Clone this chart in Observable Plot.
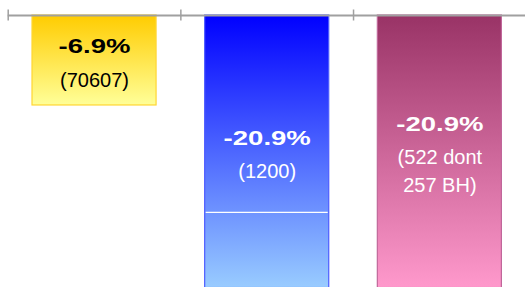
<!DOCTYPE html>
<html><head><meta charset="utf-8">
<script src="https://cdn.jsdelivr.net/npm/d3@7"></script>
<script src="https://cdn.jsdelivr.net/npm/@observablehq/plot@0.6"></script>
<style>html,body{margin:0;padding:0;background:#fff;overflow:hidden}</style>
</head><body><div id="chart"></div>
<script>
// Data
const categories = ["A", "B", "C"];
const values = [-6.9, -20.9, -20.9];
const counts = ["(70607)", "(1200)", "(522 dont\n257 BH)"];
const splitValues = [null, -15.1, null];
const topColors = ["#ffcc00", "#0000ff", "#993366"];
const bottomColors = ["#ffff99", "#99ccff", "#ff99cc"];
const borderColors = ["#ffd633", "#4d5cff", "#c0679a"];
const textColors = ["#000000", "#ffffff", "#ffffff"];
const boundaryTicks = [0, 1, 2, 3];

const rows = categories.map((c, i) => ({
  i, cat: c, value: values[i], count: counts[i], split: splitValues[i],
  border: borderColors[i], color: textColors[i], fill: `url(#grad${i})`
}));

const barInset = 24.3;
const capH = 14.3, boldGap = 33.5, lineGap = 27.7, centerShift = 2.5;

const labelMarks = rows.flatMap(d => {
  const n = d.count.split("\n").length;
  const H = capH + boldGap + (n - 1) * lineGap;
  return [
    Plot.text([d], {
      x: r => r.i + 0.5, y: r => r.value / 2,
      text: r => r.value.toFixed(1) + "%",
      fill: "color", fontWeight: "bold", fontSize: 21, fontFamily: "Liberation Sans, Arial, sans-serif",
      lineAnchor: "bottom", dy: centerShift - H / 2 + capH
    }),
    Plot.text([d], {
      x: r => r.i + 0.5, y: r => r.value / 2,
      text: "count",
      fill: "color", fontSize: 20, fontFamily: "Liberation Sans, Arial, sans-serif",
      lineAnchor: "bottom", lineHeight: lineGap / 20, dy: centerShift + H / 2
    })
  ];
});

const chart = Plot.plot({
  width: 525,
  height: 287,
  x: {type: "linear", domain: [0, 3], range: [7.7, 525.7], axis: null},
  y: {domain: [0, -22], range: [15, 301.9], axis: null},
  color: {type: "identity"},
  marks: [
    Plot.rectY(rows, {
      x1: d => d.i, x2: d => d.i + 1, y1: 0, y2: "value",
      fill: "fill", stroke: "border", strokeWidth: 1.2,
      insetLeft: barInset, insetRight: barInset
    }),
    Plot.ruleY(rows.filter(d => d.split != null), {
      x1: d => d.i, x2: d => d.i + 1, y: "split",
      stroke: "white", strokeWidth: 1.2,
      insetLeft: barInset + 1, insetRight: barInset + 1
    }),
    ...labelMarks,
    Plot.ruleY([0], {x1: 0, x2: 3, stroke: "#a0a0a0", strokeWidth: 2}),
    Plot.ruleX(boundaryTicks, {y1: 0, y2: 0, stroke: "#a0a0a0", strokeWidth: 1.5, insetTop: -5.5, insetBottom: -5.5})
  ]
});

const svg = d3.select(chart);
const defs = svg.insert("defs", ":first-child");
rows.forEach(d => {
  const g = defs.append("linearGradient")
    .attr("id", `grad${d.i}`).attr("x1", 0).attr("y1", 0).attr("x2", 0).attr("y2", 1);
  g.append("stop").attr("offset", "0%").attr("stop-color", topColors[d.i]);
  g.append("stop").attr("offset", "100%").attr("stop-color", bottomColors[d.i]);
});
// widen the bold value labels horizontally, as in the reference
svg.selectAll('g[font-weight="bold"] text').each(function () {
  const t = d3.select(this);
  const x = +t.attr("x") || 0, y = +t.attr("y") || 0;
  const tr = t.attr("transform") || "";
  t.attr("x", null).attr("y", null)
   .attr("transform", `${tr} translate(${x},${y}) scale(1.31,1)`);
});

document.getElementById("chart").appendChild(chart);
</script>
</body></html>
